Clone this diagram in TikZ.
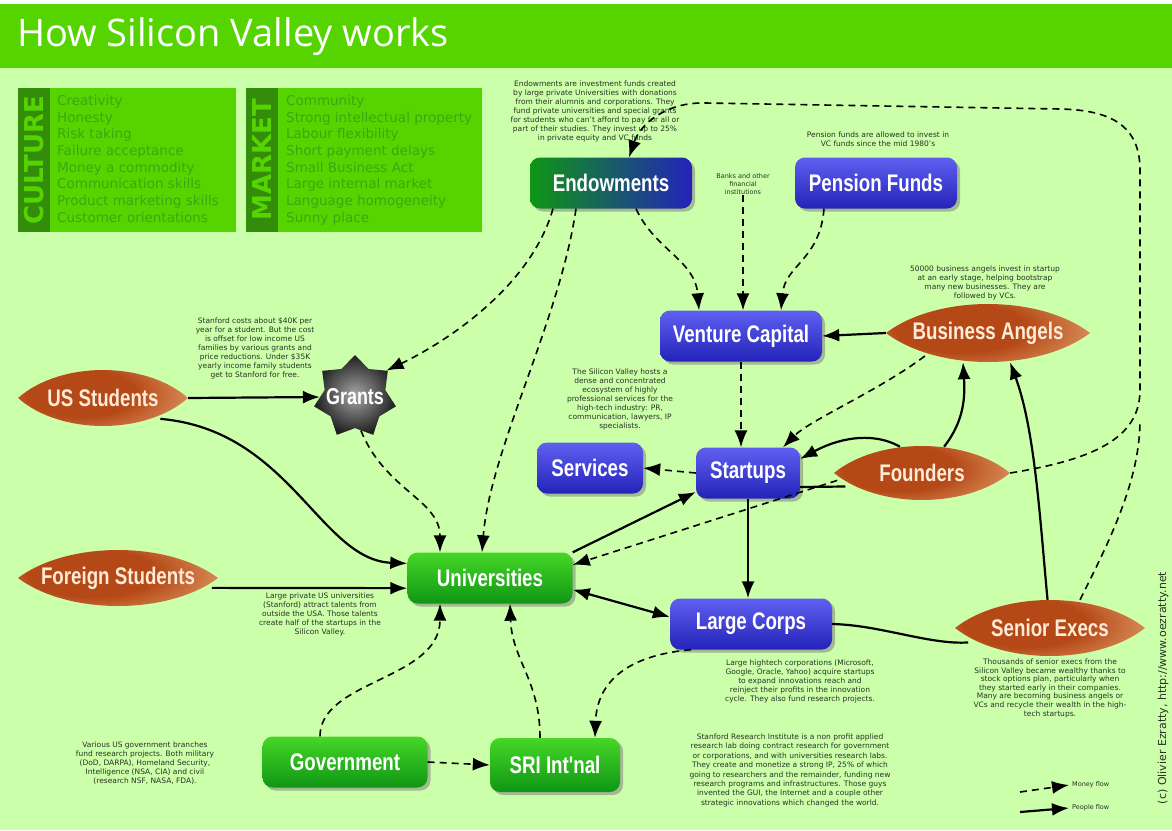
\documentclass[tikz,border=0pt]{standalone}
\usepackage{fontspec}
\setmainfont{DejaVu Sans}
\newfontfamily\labelfont[FakeStretch=0.78]{Liberation Sans}
\newfontfamily\titlefont{Open Sans}
\usetikzlibrary{arrows.meta,shapes.geometric,shadows}

\definecolor{bgc}{RGB}{204,255,170}
\definecolor{barc}{RGB}{85,212,0}
\definecolor{stripc}{RGB}{51,140,10}
\definecolor{itemc}{RGB}{58,168,20}
\definecolor{notec}{RGB}{40,50,35}
\definecolor{bluetop}{RGB}{95,95,240}
\definecolor{bluebot}{RGB}{35,35,185}
\definecolor{greentop}{RGB}{70,215,40}
\definecolor{greenbot}{RGB}{15,150,20}
\definecolor{rustc}{RGB}{180,72,22}
\definecolor{peachc}{RGB}{242,188,135}
\definecolor{lenstext}{RGB}{255,235,215}

\pgfdeclareradialshading{lensshade}{\pgfpoint{-10bp}{5bp}}{color(0bp)=(rustc); color(16bp)=(rustc); color(40bp)=(peachc); color(50bp)=(peachc)}
\newcommand\lensshape[4]{\shade[shading=lensshade] ({#1-#3},{#2}) .. controls ({#1-#3/2},{#2+1.333*#4}) and ({#1+#3/2},{#2+1.333*#4}) .. ({#1+#3},{#2}) .. controls ({#1+#3/2},{#2-1.333*#4}) and ({#1-#3/2},{#2-1.333*#4}) .. cycle;}

\begin{document}
\begin{tikzpicture}[x=1pt,y=1pt,>={Latex[length=17pt,width=13pt]},
  nodebox/.style={rounded corners=10pt,minimum height=51pt,inner sep=0pt,text=white,
    font=\labelfont\bfseries\fontsize{24}{26}\selectfont,
    drop shadow={shadow xshift=3pt,shadow yshift=-3pt,opacity=.55}},
  bluebox/.style={nodebox,top color=bluetop,bottom color=bluebot},
  greenbox/.style={nodebox,top color=greentop,bottom color=greenbot},
  lensnode/.style 2 args={ellipse,minimum width=2*#1pt,minimum height=2*#2pt,
    inner xsep=-40pt,inner ysep=-10pt,text=lenstext,
    font=\labelfont\bfseries\fontsize{24}{26}\selectfont},
  note/.style={align=center,text=notec,font=\fontsize{7.5}{9}\selectfont,inner sep=0pt},
  people/.style={line width=2.2pt,->},
  moneyline/.style={line width=1.6pt,dash pattern=on 7pt off 5pt},
  money/.style={moneyline,->}]
\useasboundingbox (0,0) rectangle (1172,-830);
\fill[bgc] (0,0) rectangle (1172,-830);
\fill[white] (0,0) rectangle (1172,-4);
\fill[barc] (0,-4) rectangle (1172,-68);
\node[anchor=west,text=white,inner sep=0pt,font=\titlefont\fontsize{38}{44}\selectfont] (title) at (17,-37) {How Silicon Valley works};

\fill[barc] (18,-88) rectangle (236,-232);
\fill[stripc] (18,-88) rectangle (50,-232);
\node[rotate=90,text=barc,font=\bfseries\fontsize{26}{28}\selectfont] (culture) at (34,-160) {CULTURE};
\node[anchor=north west,align=left,inner sep=0pt,text=itemc,font=\fontsize{13.5}{16.7}\selectfont] (culturelist) at (57,-95)
  {Creativity\\Honesty\\Risk taking\\Failure acceptance\\Money a commodity\\Communication skills\\Product marketing skills\\Customer orientations};
\fill[barc] (246,-88) rectangle (482,-232);
\fill[stripc] (246,-88) rectangle (278,-232);
\node[rotate=90,text=barc,font=\bfseries\fontsize{26}{28}\selectfont] (market) at (262,-160) {MARKET};
\node[anchor=north west,align=left,inner sep=0pt,text=itemc,font=\fontsize{13.5}{16.7}\selectfont] (marketlist) at (286,-95)
  {Community\\Strong intellectual property\\Labour flexibility\\Short payment delays\\Small Business Act\\Large internal market\\Language homogeneity\\Sunny place};

\lensshape{103}{-398}{85}{28}
\lensshape{118}{-578}{100}{28}
\lensshape{988}{-333}{102}{29}
\lensshape{922}{-473}{88}{27}
\lensshape{1050}{-628}{95}{28}

\node[nodebox,minimum width=162pt,left color=greenbot,right color=bluebot] (endow) at (611,-183) {Endowments};
\node[bluebox,minimum width=162pt] (pension) at (876,-183) {Pension Funds};
\node[bluebox,minimum width=162pt] (vc) at (741,-336) {Venture Capital};
\node[bluebox,minimum width=106pt] (services) at (590,-468) {Services};
\node[bluebox,minimum width=104pt] (startups) at (748,-473) {Startups};
\node[greenbox,minimum width=165pt] (uni) at (490,-578) {Universities};
\node[bluebox,minimum width=162pt] (corps) at (751,-624) {Large Corps};
\node[greenbox,minimum width=165pt] (gov) at (345,-762) {Government};
\node[greenbox,minimum width=130pt,minimum height=54pt] (sri) at (555,-765) {SRI Int'nal};
\node[star,star points=7,star point ratio=1.35,minimum size=84pt,inner sep=-14pt,inner color=black!35,outer color=black!88,
  text=white,font=\labelfont\bfseries\fontsize{23}{25}\selectfont] (grants) at (355,-397) {Grants};
\node[lensnode={85}{28}] (us) at (103,-398) {US Students};
\node[lensnode={100}{28}] (foreign) at (118,-578) {Foreign Students};
\node[lensnode={102}{29}] (ba) at (988,-333) {Business Angels};
\node[lensnode={88}{27}] (founders) at (922,-473) {Founders};
\node[lensnode={95}{28}] (senior) at (1050,-628) {Senior Execs};

\node[note,anchor=north] (endowtxt) at (595,-80.5) {Endowments are investment funds created\\by large private Universities with donations\\from their alumnis and corporations. They\\fund private universities and special grants\\for students who can't afford to pay for all or\\part of their studies. They invest up to 25\%\\in private equity and VC funds};
\node[note,font=\fontsize{6.5}{8}\selectfont] (banks) at (743,-184) {Banks and other\\financial\\institutions};
\node[note,anchor=north] (pensiontxt) at (878,-132) {Pension funds are allowed to invest in\\VC funds since the mid 1980's};
\node[note,anchor=north] (stanfordtxt) at (255,-318) {Stanford costs about \$40K per\\year for a student. But the cost\\is offset for low income US\\families by various grants and\\price reductions. Under \$35K\\yearly income family students\\get to Stanford for free.};
\node[note,anchor=north] (batxt) at (985,-265.5) {50000 business angels invest in startup\\at an early stage, helping bootstrap\\many new businesses. They are\\followed by VCs.};
\node[note,anchor=north] (svtxt) at (620,-369) {The Silicon Valley hosts a\\dense and concentrated\\ecosystem of highly\\professional services for the\\high-tech industry: PR,\\communication, lawyers, IP\\specialists.};
\node[note,anchor=north] (unitxt) at (320,-593) {Large private US universities\\(Stanford) attract talents from\\outside the USA. Those talents\\create half of the startups in the\\Silicon Valley.};
\node[note,anchor=north] (corpstxt) at (800,-659.5) {Large hightech corporations (Microsoft,\\Google, Oracle, Yahoo) acquire startups\\to expand innovations reach and\\reinject their profits in the innovation\\cycle. They also fund research projects.};
\node[note,anchor=north,font=\fontsize{7.5}{8.6}\selectfont] (seniortxt) at (1050,-658.5) {Thousands of senior execs from the\\Silicon Valley became wealthy thanks to\\stock options plan, particularly when\\they started early in their companies.\\Many are becoming business angels or\\VCs and recycle their wealth in the high-\\tech startups.};
\node[note,anchor=north] (govtxt) at (145,-741.5) {Various US government branches\\fund research projects. Both military\\(DoD, DARPA), Homeland Security,\\Intelligence (NSA, CIA) and civil\\(research NSF, NASA, FDA).};
\node[note,anchor=north,font=\fontsize{7.5}{9.4}\selectfont] (sritxt) at (790,-733.5) {Stanford Research Institute is a non profit applied\\research lab doing contract research for government\\or corporations, and with universities research labs.\\They create and monetize a strong IP, 25\% of which\\going to researchers and the remainder, funding new\\research programs and infrastructures. Those guys\\invented the GUI, the Internet and a couple other\\strategic innovations which changed the world.};

\draw[people] (us.east) -- (grants.west);
\draw[people] (us.-20) .. controls (290,-430) and (320,-560) .. (uni.170);
\draw[people] (foreign.-6) -- (uni.187);
\draw[people] (uni.north east) -- (startups.200);
\draw[people,<->] (uni.-8) -- (corps.175);
\draw[people] (startups.south) -- (startups.south |- corps.north);
\draw[people] (founders.130) .. controls (870,-430) and (835,-440) .. (startups.15);
\draw[people] (founders.50) .. controls (965,-420) and (965,-395) .. ([xshift=-25pt]ba.south);
\draw[line width=2.2pt] (startups.-15) -- (founders.190);
\draw[people] (ba.west) -- (vc.east);
\draw[line width=2.2pt] (corps.east) .. controls (880,-625) and (930,-645) .. (senior.190);
\draw[people] (senior.95) .. controls (1040,-520) and (1035,-430) .. ([xshift=22pt]ba.south);

\draw[money] ([xshift=-58pt]endow.south) .. controls (530,-290) and (440,-345) .. (grants.40);
\draw[money] ([xshift=-35pt]endow.south) .. controls (560,-320) and (490,-450) .. ([xshift=-8pt]uni.north);
\draw[money] ([xshift=25pt]endow.south) .. controls (655,-250) and (695,-260) .. ([xshift=-42pt]vc.north);
\draw[money] (banks.south) -- (banks.south |- vc.north);
\draw[money] ([xshift=-52pt]pension.south) .. controls (820,-260) and (785,-265) .. ([xshift=40pt]vc.north);
\draw[money] (grants.-80) .. controls (385,-490) and (440,-500) .. ([xshift=-50pt]uni.north);
\draw[money] (vc.south) -- (vc.south |- startups.north);
\draw[money] (ba.200) .. controls (880,-390) and (810,-420) .. ([xshift=35pt]startups.north);
\draw[money] (startups.west) -- (services.east);
\draw[money] (founders.185) -- (uni.9);
\draw[money] ([xshift=-60pt]corps.south) .. controls (630,-655) and (597,-680) .. ([xshift=40pt]sri.north);
\draw[money] ([xshift=-25pt]gov.north) .. controls (320,-680) and (440,-680) .. ([xshift=-50pt]uni.south);
\draw[money] ([xshift=-15pt]sri.north) .. controls (540,-680) and (512,-660) .. ([xshift=20pt]uni.south);
\draw[money] (gov.east) -- (sri.west);
\draw[money] (founders.east) .. controls (1090,-460) and (1140,-440) .. (1140,-390) -- (1140,-170)
  .. controls (1140,-125) and (1110,-110) .. (1060,-109) -- (705,-103)
  .. controls (665,-102) and (640,-125) .. ([xshift=18pt]endow.north);
\coordinate (merge) at (1140,-420);
\draw[moneyline] ([xshift=30pt]senior.north) .. controls (1110,-540) and (1140,-480) .. (merge);

\node[note,anchor=west,inner sep=3pt,font=\fontsize{6.5}{8}\selectfont] (moneytxt) at (1069,-785) {Money flow};
\node[note,anchor=west,inner sep=3pt,font=\fontsize{6.5}{8}\selectfont] (peopletxt) at (1069,-808) {People flow};
\coordinate (m0) at (1020,-792);
\coordinate (p0) at (1020,-812);
\draw[money] (m0) -- (moneytxt.west);
\draw[people] (p0) -- (peopletxt.west);
\node[rotate=90,text=notec,font=\fontsize{11}{13}\selectfont] (copyright) at (1163,-688) {(c) Olivier Ezratty, http://www.oezratty.net};
\end{tikzpicture}
\end{document}
